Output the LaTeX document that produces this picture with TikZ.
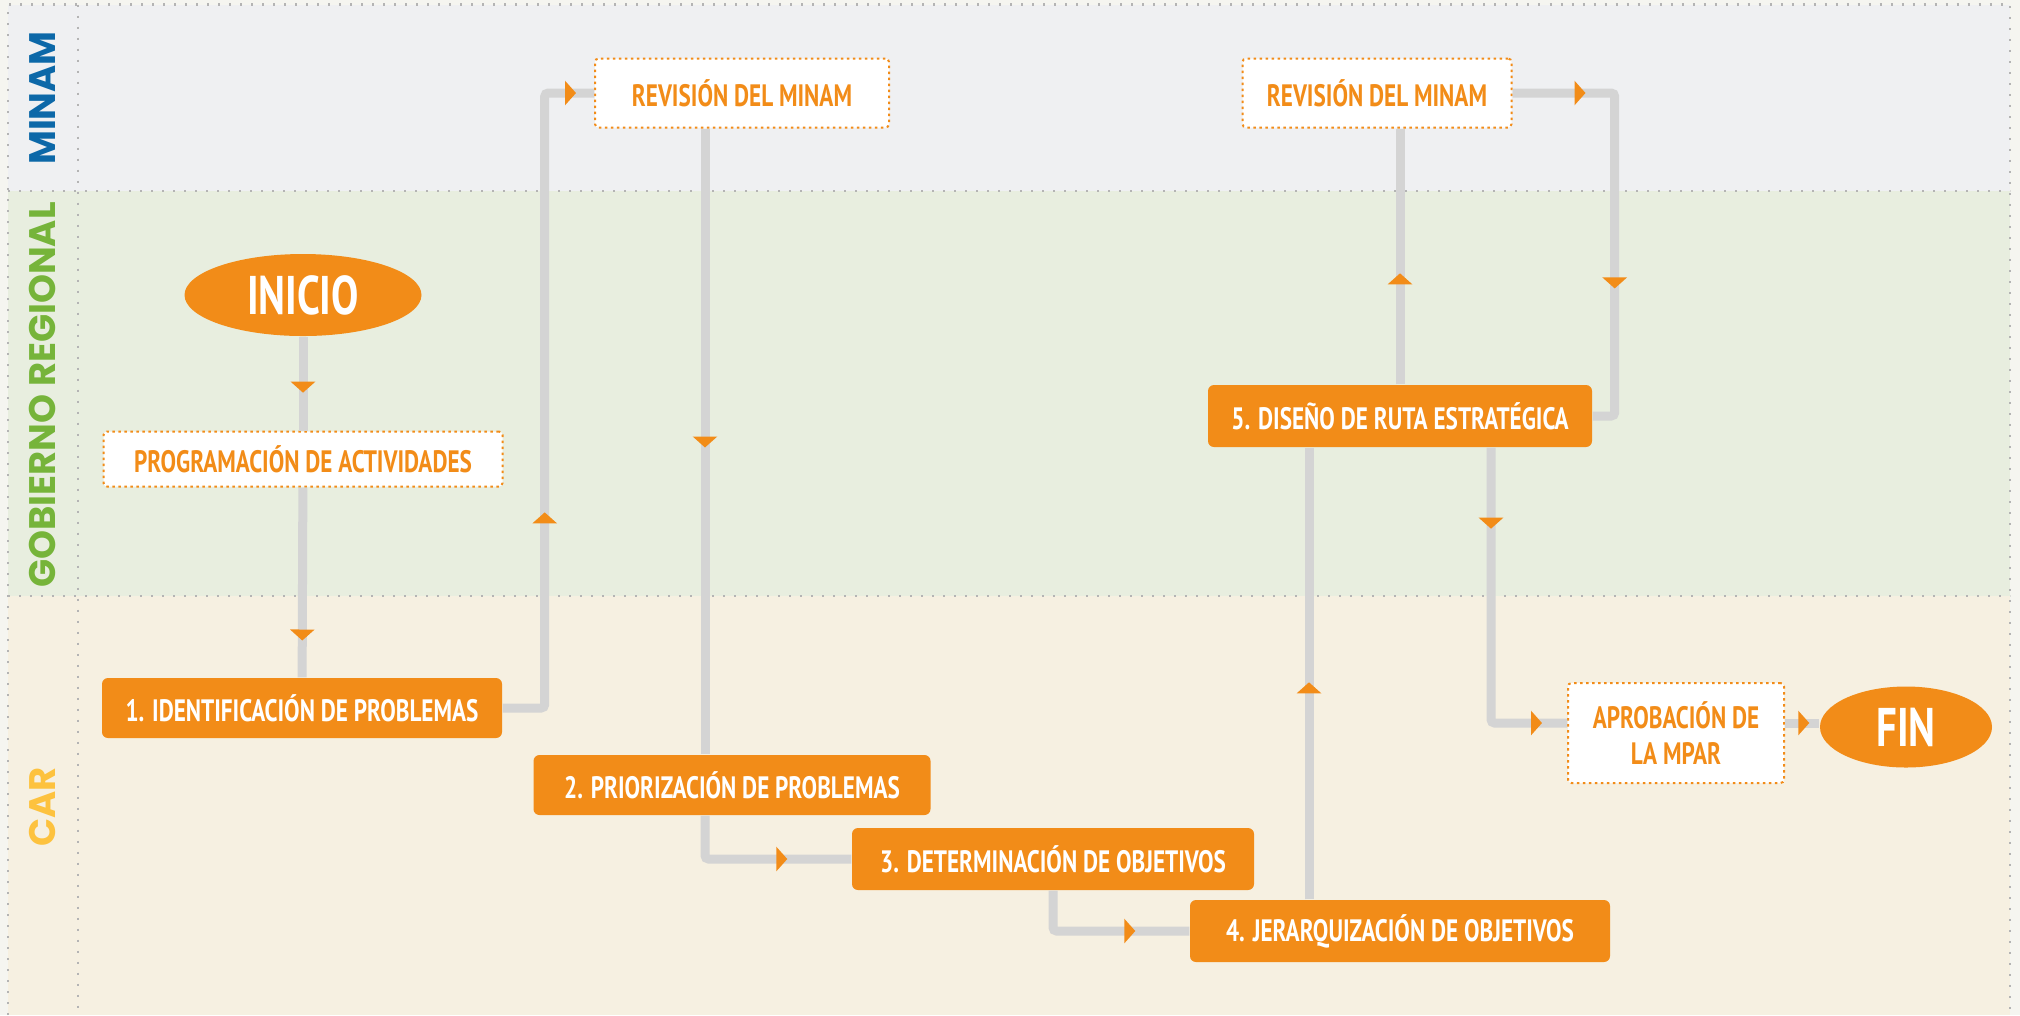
\documentclass[tikz,border=0pt]{standalone}
\usepackage{fontspec}
\setmainfont{PT Sans}[FakeStretch=0.75]
\newfontfamily\carril{Poppins}
\usetikzlibrary{shapes.geometric,arrows.meta,decorations.markings}

\definecolor{naranja}{HTML}{F28C18}
\definecolor{grislinea}{HTML}{D4D4D4}
\definecolor{grispunto}{HTML}{B4B4B4}
\definecolor{fondo}{HTML}{F5F5F0}
\definecolor{fondominam}{HTML}{EFF0F2}
\definecolor{fondogore}{HTML}{E8EEDF}
\definecolor{fondocar}{HTML}{F6F0E1}
\definecolor{azulminam}{HTML}{0C68A8}
\definecolor{verdegore}{HTML}{76B43A}
\definecolor{amarillocar}{HTML}{FDC23E}

\tikzset{
    paso/.style={fill=naranja, rounded corners=1.7pt, inner sep=0pt, text=white,
        font=\bfseries\fontsize{8.8}{10}\selectfont},
    revision/.style={draw=naranja, line width=0.2mm, dash pattern=on 0.25mm off 0.35mm,
        fill=white, rounded corners=1pt, inner sep=0pt, text=naranja, align=center,
        font=\bfseries\fontsize{8.8}{10}\selectfont},
    extremo/.style={ellipse, fill=naranja, inner sep=0pt, text=white,
        font=\bfseries\fontsize{15.5}{17}\selectfont},
    carrilnombre/.style={rotate=90, font=\carril\bfseries\fontsize{10.5}{12}\selectfont},
    punteada/.style={grispunto, line width=0.25mm, dash pattern=on 0.2mm off 0.9mm},
    conector/.style={draw=grislinea, line width=0.9mm, rounded corners=1pt},
    marca/.style={postaction={decorate, decoration={markings,
        mark=at position #1 with {\arrow{Triangle[width=2.4mm,length=1.1mm,color=naranja]}}}}}
}

\begin{document}
\begin{tikzpicture}
    \useasboundingbox[fill=fondo] (0,0) rectangle (20.20,-10.15);
    \fill[fondominam] (0.08,-0.045) rectangle (20.10,-1.91);
    \fill[fondogore] (0.08,-1.91) rectangle (20.10,-5.96);
    \fill[fondocar] (0.08,-5.96) rectangle (20.10,-10.15);
    \draw[punteada] (0.08,-10.15) -- (0.08,-0.045) -- (20.10,-0.045) -- (20.10,-10.15);
    \draw[punteada] (0.78,-0.045) -- (0.78,-10.15);
    \draw[punteada] (0.08,-1.91) -- (20.10,-1.91);
    \draw[punteada] (0.08,-5.96) -- (20.10,-5.96);

    \node[carrilnombre, text=azulminam] (minam) at (0.425,-0.98) {MINAM};
    \node[carrilnombre, text=verdegore] (gore) at (0.425,-3.95) {GOBIERNO REGIONAL};
    \node[carrilnombre, text=amarillocar] (car) at (0.425,-8.07) {CAR};

    \node[extremo, minimum width=2.37cm, minimum height=0.82cm] (inicio) at (3.03,-2.95) {INICIO};
    \node[revision, minimum width=3.99cm, minimum height=0.55cm] (prog) at (3.03,-4.59) {PROGRAMACIÓN DE ACTIVIDADES};
    \node[paso, minimum width=4.00cm, minimum height=0.60cm] (n1) at (3.02,-7.08) {1. IDENTIFICACIÓN DE PROBLEMAS};
    \node[revision, minimum width=2.94cm, minimum height=0.69cm] (rev1) at (7.42,-0.93) {REVISIÓN DEL MINAM};
    \node[paso, minimum width=3.97cm, minimum height=0.60cm] (n2) at (7.32,-7.85) {2. PRIORIZACIÓN DE PROBLEMAS};
    \node[paso, minimum width=4.02cm, minimum height=0.62cm] (n3) at (10.53,-8.59) {3. DETERMINACIÓN DE OBJETIVOS};
    \node[paso, minimum width=4.20cm, minimum height=0.62cm] (n4) at (14.00,-9.31) {4. JERARQUIZACIÓN DE OBJETIVOS};
    \node[paso, minimum width=3.84cm, minimum height=0.62cm] (n5) at (14.00,-4.16) {5. DISEÑO DE RUTA ESTRATÉGICA};
    \node[revision, minimum width=2.69cm, minimum height=0.69cm] (rev2) at (13.77,-0.93) {REVISIÓN DEL MINAM};
    \node[revision, minimum width=2.16cm, minimum height=1.00cm] (aprob) at (16.76,-7.33) {APROBACIÓN DE\\LA MPAR};
    \node[extremo, minimum width=1.72cm, minimum height=0.81cm] (fin) at (19.06,-7.27) {FIN};

    \draw[conector, marca=0.56cm] (inicio) -- (prog);
    \draw[conector, marca=1.53cm] (prog) -- (n1);
    \draw[conector, marca=2.36cm, marca=-0.18cm] (n1.east) -- ++(0.42,0) |- (rev1.west);
    \draw[conector, marca=3.19cm] ([xshift=-3.7mm]rev1.south) -- ([xshift=-3.7mm]rev1.south |- n2.north);
    \draw[conector, marca=-0.64cm] ([xshift=-2.7mm]n2.south) |- (n3.west);
    \draw[conector, marca=-0.54cm] (n3.south) |- (n4.west);
    \draw[conector, marca=2.17cm] ([xshift=-9.1mm]n4.north) -- ([xshift=-9.1mm]n4.north |- n5.south);
    \draw[conector, marca=1.11cm] (n5.north) -- (n5.north |- rev2.south);
    \draw[conector, marca=0.73cm, marca=2.96cm] (rev2.east) -| ([xshift=2.2mm]n5.east) -- (n5.east);
    \draw[conector, marca=0.81cm, marca=-0.25cm] ([xshift=9.1mm]n5.south) |- ([yshift=1mm]aprob.west);
    \draw[conector, marca=-0.10cm] ([yshift=1mm]aprob.east) -- ([yshift=1mm]aprob.east -| fin.west);
\end{tikzpicture}
\end{document}
